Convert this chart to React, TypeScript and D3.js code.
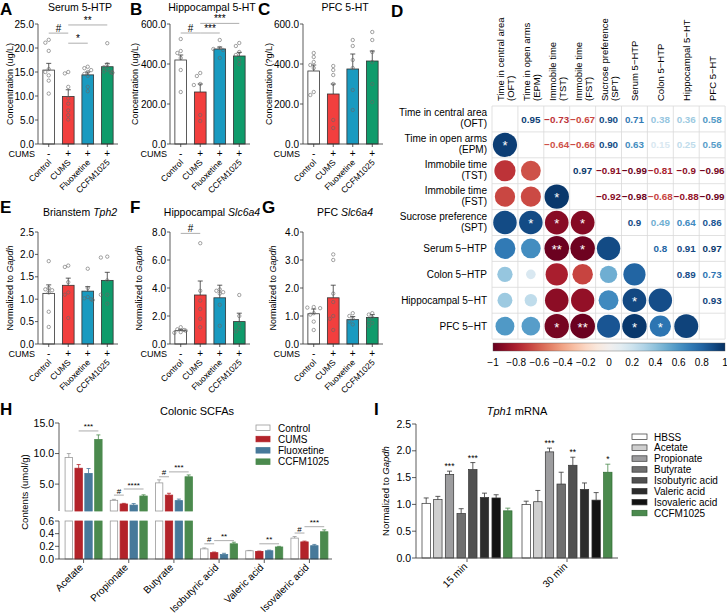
import React from "react";
import * as d3 from "d3";

const FONT = "'Liberation Sans', Arial, Helvetica, sans-serif";

// ---------- shared groups ----------
const groupNames = ["Control", "CUMS", "Fluoxetine", "CCFM1025"];
const cumsSigns = ["-", "+", "+", "+"];
const groupFills = ["#ffffff", "#f23f3e", "#199ac0", "#0f9b6b"];

// ---------- A: Serum 5-HTP ----------
const serumHtpMean = [15.4, 9.9, 14.4, 16.1];
const serumHtpSem = [1.4, 1.4, 0.6, 0.7];
const serumHtpPts = [
  [21.7, 21.1, 19.4, 15.6, 15.0, 14.3, 13.2, 10.5],
  [15.0, 14.7, 11.9, 9.5, 8.4, 7.0, 6.0, 5.1],
  [16.1, 15.8, 15.4, 15.0, 14.6, 14.2, 11.9, 11.0],
  [21.0, 16.6, 16.0, 15.5, 15.0, 14.9, 15.1, 14.8],
];
const serumHtpSig = [
  { a: 0, b: 1, v: 23.1, t: "#" },
  { a: 1, b: 3, v: 24.8, t: "**" },
  { a: 1, b: 2, v: 21.0, t: "*" },
];

// ---------- B: Hippocampal 5-HT ----------
const hippoHtMean = [420, 260, 475, 440];
const hippoHtSem = [25, 40, 10, 18];
const hippoHtPts = [
  [525, 465, 455, 430, 370, 260],
  [355, 340, 300, 295, 145, 115],
  [520, 480, 475, 470, 430],
  [505, 490, 460, 445, 420, 400],
];
const hippoHtSig = [
  { a: 0, b: 1, v: 555, t: "#" },
  { a: 1, b: 2, v: 555, t: "***" },
  { a: 1, b: 3, v: 603, t: "***" },
];

// ---------- C: PFC 5-HT ----------
const pfcHtMean = [365, 250, 375, 415];
const pfcHtSem = [30, 50, 75, 50];
const pfcHtPts = [
  [455, 435, 410, 395, 380, 260, 245],
  [390, 370, 345, 300, 120, 80],
  [520, 490, 420, 380, 270, 170],
  [560, 520, 460, 410, 300, 210],
];

// ---------- E: Brainstem Tph2 ----------
const tph2Mean = [1.13, 1.31, 1.18, 1.42];
const tph2Sem = [0.19, 0.16, 0.1, 0.18];
const tph2Pts = [
  [1.85, 1.25, 1.22, 1.2, 1.15, 0.72, 0.38],
  [1.75, 1.72, 1.38, 1.15, 1.1, 0.58],
  [1.68, 1.25, 1.05, 1.02, 1.0, 0.98],
  [1.95, 1.93, 1.42, 1.1, 1.1, 0.9],
];

// ---------- F: Hippocampal Slc6a4 ----------
const hipSlcMean = [0.95, 3.5, 3.3, 1.6];
const hipSlcSem = [0.1, 1.0, 0.9, 0.6];
const hipSlcPts = [
  [1.2, 1.05, 1.0, 0.95, 0.85, 0.8],
  [7.2, 3.8, 3.1, 2.5, 1.8, 1.2],
  [3.9, 3.8, 3.7, 3.6, 2.8, 1.3],
  [3.5, 2.0, 1.4, 1.1, 0.9],
];
const hipSlcSig = [{ a: 0, b: 1, v: 7.9, t: "#" }];

// ---------- G: PFC Slc6a4 ----------
const pfcSlcMean = [1.08, 1.65, 0.87, 0.95];
const pfcSlcSem = [0.17, 0.45, 0.11, 0.1];
const pfcSlcPts = [
  [1.3, 1.28, 1.32, 1.1, 1.05, 0.8, 0.5],
  [3.2, 3.0, 1.8, 1.5, 1.0, 0.9, 0.5],
  [1.1, 1.0, 0.9, 0.8, 0.7],
  [1.1, 1.05, 0.95, 0.85, 0.75, 0.65],
];

// ---------- D: correlation matrix ----------
const corrLabels = [
  ["Time in central area", "(OFT)"],
  ["Time in open arms", "(EPM)"],
  ["Immobile time", "(TST)"],
  ["Immobile time", "(FST)"],
  ["Sucrose preference", "(SPT)"],
  ["Serum 5\u2212HTP"],
  ["Colon 5\u2212HTP"],
  ["Hippocampal 5\u2212HT"],
  ["PFC 5\u2212HT"],
];
const corrUpper = [
  ["0.95", "-0.73", "-0.67", "0.90", "0.71", "0.38", "0.36", "0.58"],
  ["-0.64", "-0.66", "0.90", "0.63", "0.15", "0.25", "0.56"],
  ["0.97", "-0.91", "-0.99", "-0.81", "-0.9", "-0.96"],
  ["-0.92", "-0.98", "-0.68", "-0.88", "-0.99"],
  ["0.9", "0.49", "0.64", "0.86"],
  ["0.8", "0.91", "0.97"],
  ["0.89", "0.73"],
  ["0.93"],
];
const corrStars = [
  { r: 1, c: 0, t: "*" },
  { r: 3, c: 2, t: "*" },
  { r: 4, c: 1, t: "*" },
  { r: 4, c: 2, t: "*" },
  { r: 4, c: 3, t: "*" },
  { r: 5, c: 2, t: "**" },
  { r: 5, c: 3, t: "*" },
  { r: 7, c: 5, t: "*" },
  { r: 8, c: 2, t: "*" },
  { r: 8, c: 3, t: "**" },
  { r: 8, c: 5, t: "*" },
  { r: 8, c: 6, t: "*" },
];
const colorbarTicks = [-1, -0.8, -0.6, -0.4, -0.2, 0, 0.2, 0.4, 0.6, 0.8, 1];

// ---------- H: Colonic SCFAs ----------
const scfaNames = ["Acetate", "Propionate", "Butyrate", "Isobutyric acid", "Valeric acid", "Isovaleric acid"];
const scfaFills = ["#ffffff", "#b3232a", "#47799a", "#4b8a4e"];
const scfaStrokes = ["#9a9a9a", "#b3232a", "#47799a", "#4b8a4e"];
const scfaControl = [9.35, 2.35, 5.2, 0.16, 0.13, 0.33];
const scfaControlSem = [0.65, 0.15, 0.5, 0.015, 0.005, 0.025];
const scfaCums = [7.6, 1.75, 3.2, 0.1, 0.12, 0.27];
const scfaCumsSem = [0.6, 0.1, 0.3, 0.01, 0.005, 0.012];
const scfaFlu = [6.75, 1.57, 2.3, 0.07, 0.13, 0.21];
const scfaFluSem = [0.8, 0.25, 0.25, 0.02, 0.01, 0.02];
const scfaCcfm = [12.3, 3.05, 6.2, 0.24, 0.19, 0.43];
const scfaCcfmSem = [0.75, 0.2, 0.3, 0.025, 0.01, 0.03];
const scfaSig = [
  { g: 0, a: 1, b: 3, v: 13.7, t: "***" },
  { g: 1, a: 0, b: 1, v: 3.2, t: "#" },
  { g: 1, a: 1, b: 3, v: 4.2, t: "****" },
  { g: 2, a: 0, b: 1, v: 6.2, t: "#" },
  { g: 2, a: 1, b: 3, v: 7.0, t: "***" },
  { g: 3, a: 0, b: 1, v: 0.24, t: "#" },
  { g: 3, a: 1, b: 3, v: 0.29, t: "**" },
  { g: 4, a: 1, b: 3, v: 0.24, t: "**" },
  { g: 5, a: 0, b: 1, v: 0.41, t: "#" },
  { g: 5, a: 1, b: 3, v: 0.51, t: "***" },
];
const scfaBreak = 0.6;

// ---------- I: Tph1 mRNA ----------
const tphTimes = ["15 min", "30 min"];
const tphTreat = ["HBSS", "Acetate", "Propionate", "Butyrate", "Isobutyric acid", "Valeric acid", "Isovaleric acid", "CCFM1025"];
const tphFills = ["#ffffff", "#cfcfcf", "#9d9d9f", "#6f6f6f", "#505050", "#2c2c2c", "#121212", "#4b8a4e"];
const tph15 = [1.02, 1.09, 1.56, 0.83, 1.65, 1.13, 1.12, 0.88];
const tph15Sem = [0.1, 0.06, 0.06, 0.09, 0.13, 0.08, 0.06, 0.05];
const tph30 = [1.0, 1.05, 1.98, 1.38, 1.73, 1.28, 1.08, 1.6];
const tph30Sem = [0.06, 0.21, 0.07, 0.22, 0.15, 0.12, 0.14, 0.15];
const tph15Stars = ["", "", "***", "", "***", "", "", ""];
const tph30Stars = ["", "", "***", "", "**", "", "", "*"];

// ---------- helpers ----------
function swarm(vals: number[], yScale: (v: number) => number, r: number) {
  const order = vals.map((v) => ({ v, y: yScale(v) })).sort((a, b) => a.y - b.y);
  const cands = [0, -3.4, 3.4, -6.4, 6.4, -1.7, 1.7, -5, 5];
  const placed: { dx: number; y: number }[] = [];
  for (const o of order) {
    let best = cands[cands.length - 1];
    for (const c of cands) {
      if (placed.every((p) => Math.hypot(p.dx - c, p.y - o.y) >= 2 * r + 0.2)) {
        best = c;
        break;
      }
    }
    placed.push({ dx: best, y: o.y });
  }
  return placed;
}

const minus = (s: string) => s.replace("-", "\u2212");

type Sig = { a: number; b: number; v: number; t: string };
type PanelCfg = {
  letter: string; letterX: number; letterY: number;
  title: React.ReactNode; titleY: number;
  ylabel: React.ReactNode; ylabelX: number;
  x0: number; yTop: number; yZero: number; max: number; step: number;
  mean: number[]; sem: number[]; pts: number[][]; sigs: Sig[];
};

function BarPanel({ c }: { c: PanelCfg }) {
  const y = d3.scaleLinear().domain([0, c.max]).range([c.yZero, c.yTop]);
  const x = d3.scaleBand<string>().domain(groupNames).range([c.x0, c.x0 + 80]).paddingInner(0.4).paddingOuter(0.25);
  const bw = x.bandwidth();
  const ticks = d3.range(0, c.max + c.step / 2, c.step);
  const fmt = d3.format(".1f");
  const cx = (i: number) => (x(groupNames[i]) as number) + bw / 2;
  return (
    <g>
      <text x={c.letterX} y={c.letterY} fontSize={17} fontWeight="bold">{c.letter}</text>
      <text x={c.x0 + 42} y={c.titleY} fontSize={10.5} textAnchor="middle">{c.title}</text>
      <text transform={`translate(${c.ylabelX},${(c.yTop + c.yZero) / 2}) rotate(-90)`} textAnchor="middle" fontSize={9}>{c.ylabel}</text>
      <line x1={c.x0} x2={c.x0} y1={c.yTop} y2={c.yZero} stroke="#333" strokeWidth={0.8} />
      {ticks.map((t) => (
        <g key={t}>
          <line x1={c.x0 - 3} x2={c.x0} y1={y(t)} y2={y(t)} stroke="#333" strokeWidth={0.8} />
          <text x={c.x0 - 4} y={y(t)} dy="0.35em" textAnchor="end" fontSize={10}>{fmt(t)}</text>
        </g>
      ))}
      {groupNames.map((g, i) => {
        const m = c.mean[i];
        const top = y(m + c.sem[i]);
        const pts = swarm(c.pts[i], y, 1.7);
        return (
          <g key={g}>
            <rect x={x(g)} y={y(m)} width={bw} height={c.yZero - y(m)} fill={groupFills[i]} stroke="#333" strokeWidth={0.8} />
            <line x1={cx(i)} x2={cx(i)} y1={y(m)} y2={top} stroke="#333" strokeWidth={0.8} />
            <line x1={cx(i) - 2.5} x2={cx(i) + 2.5} y1={top} y2={top} stroke="#333" strokeWidth={0.8} />
            {pts.map((p, k) => (
              <circle key={k} cx={cx(i) + p.dx} cy={p.y} r={1.7} fill="none" stroke="#666" strokeWidth={0.6} />
            ))}
            <line x1={cx(i)} x2={cx(i)} y1={c.yZero} y2={c.yZero + 3} stroke="#333" strokeWidth={0.8} />
            <text x={cx(i)} y={c.yZero + 13} textAnchor="middle" fontSize={10}>{cumsSigns[i]}</text>
            <text transform={`translate(${cx(i) + 3},${c.yZero + 19}) rotate(-45)`} textAnchor="end" fontSize={8.5}>{g}</text>
          </g>
        );
      })}
      <line x1={c.x0} x2={c.x0 + 80} y1={c.yZero} y2={c.yZero} stroke="#333" strokeWidth={0.8} />
      <text x={c.x0 - 3} y={c.yZero + 13} textAnchor="end" fontSize={9}>CUMS</text>
      {c.sigs.map((s, k) => (
        <g key={k}>
          <line x1={cx(s.a)} x2={cx(s.b)} y1={y(s.v)} y2={y(s.v)} stroke="#999" strokeWidth={0.8} />
          <text x={(cx(s.a) + cx(s.b)) / 2} y={y(s.v) - 1.2} textAnchor="middle" fontSize={10}>{s.t}</text>
        </g>
      ))}
    </g>
  );
}

const concLabel = "Concentration (ug/L)";
const normLabel = (
  <>
    Normalized to <tspan fontStyle="italic">Gapdh</tspan>
  </>
);

const panels: PanelCfg[] = [
  { letter: "A", letterX: 0, letterY: 15, title: "Serum 5-HTP", titleY: 10.5, ylabel: concLabel, ylabelX: 13, x0: 38, yTop: 24, yZero: 144, max: 25, step: 5, mean: serumHtpMean, sem: serumHtpSem, pts: serumHtpPts, sigs: serumHtpSig },
  { letter: "B", letterX: 130, letterY: 15, title: "Hippocampal 5-HT", titleY: 10.5, ylabel: concLabel, ylabelX: 138, x0: 170, yTop: 24, yZero: 144, max: 600, step: 200, mean: hippoHtMean, sem: hippoHtSem, pts: hippoHtPts, sigs: hippoHtSig },
  { letter: "C", letterX: 258, letterY: 15, title: "PFC 5-HT", titleY: 10.5, ylabel: "Concentration (?g/L)", ylabelX: 272, x0: 303, yTop: 24, yZero: 144, max: 600, step: 200, mean: pfcHtMean, sem: pfcHtSem, pts: pfcHtPts, sigs: [] },
  { letter: "E", letterX: 0, letterY: 213, title: <>Brianstem <tspan fontStyle="italic">Tph2</tspan></>, titleY: 216, ylabel: normLabel, ylabelX: 13, x0: 38, yTop: 232, yZero: 344, max: 2.5, step: 0.5, mean: tph2Mean, sem: tph2Sem, pts: tph2Pts, sigs: [] },
  { letter: "F", letterX: 130, letterY: 213, title: <>Hippocampal <tspan fontStyle="italic">Slc6a4</tspan></>, titleY: 216, ylabel: normLabel, ylabelX: 142, x0: 170, yTop: 232, yZero: 344, max: 8, step: 2, mean: hipSlcMean, sem: hipSlcSem, pts: hipSlcPts, sigs: hipSlcSig },
  { letter: "G", letterX: 262, letterY: 213, title: <>PFC <tspan fontStyle="italic">Slc6a4</tspan></>, titleY: 216, ylabel: normLabel, ylabelX: 276, x0: 303, yTop: 232, yZero: 344, max: 4, step: 1, mean: pfcSlcMean, sem: pfcSlcSem, pts: pfcSlcPts, sigs: [] },
];

// ---------- D ----------
function CorrPanel() {
  const n = corrLabels.length;
  const x0 = 492, y0 = 106, cell = 25.9;
  const pos = d3.scaleLinear().domain([0, n]).range([0, n * cell]);
  const color = (r: number) => d3.interpolateRdBu((r + 1) / 2);
  const mat: number[][] = d3.range(n).map(() => d3.range(n).map(() => 1));
  corrUpper.forEach((row, i) => row.forEach((s, k) => {
    const j = i + 1 + k;
    mat[i][j] = +s;
    mat[j][i] = +s;
  }));
  const rad = d3.scaleSqrt().domain([0, 1]).range([0, 12.4]);
  const cbX = d3.scaleLinear().domain([-1, 1]).range([493, 725]);
  const stops = d3.range(0, 1.0001, 0.05);
  return (
    <g>
      <defs>
        <linearGradient id="rdbu" x1="0" x2="1" y1="0" y2="0">
          {stops.map((t) => (
            <stop key={t} offset={t} stopColor={d3.interpolateRdBu(t)} />
          ))}
        </linearGradient>
      </defs>
      <text x={391} y={17} fontSize={17} fontWeight="bold">D</text>
      {corrLabels.map((lab, j) => {
        const c = x0 + pos(j) + cell / 2;
        return lab.length === 2 ? (
          <g key={"c" + j} fontSize={9.5}>
            <text transform={`translate(${c - 0.5},101) rotate(-90)`}>{lab[0]}</text>
            <text transform={`translate(${c + 9.5},101) rotate(-90)`}>{lab[1]}</text>
          </g>
        ) : (
          <text key={"c" + j} transform={`translate(${c + 4},101) rotate(-90)`} fontSize={9.5}>{lab[0]}</text>
        );
      })}
      {corrLabels.map((lab, i) => {
        const cy = y0 + pos(i) + cell / 2;
        return lab.length === 2 ? (
          <g key={"r" + i} fontSize={10} textAnchor="end">
            <text x={487} y={cy - 3}>{lab[0]}</text>
            <text x={487} y={cy + 8}>{lab[1]}</text>
          </g>
        ) : (
          <text key={"r" + i} x={487} y={cy + 3.5} fontSize={10} textAnchor="end">{lab[0]}</text>
        );
      })}
      {d3.range(n + 1).map((k) => (
        <g key={"gl" + k}>
          <line x1={x0} x2={x0 + pos(n)} y1={y0 + pos(k)} y2={y0 + pos(k)} stroke="#d9d9d9" strokeWidth={0.8} />
          <line x1={x0 + pos(k)} x2={x0 + pos(k)} y1={y0} y2={y0 + pos(n)} stroke="#d9d9d9" strokeWidth={0.8} />
        </g>
      ))}
      {d3.range(n).map((i) =>
        d3.range(n).map((j) => {
          if (i === j) return null;
          const cx = x0 + pos(j) + cell / 2;
          const cy = y0 + pos(i) + cell / 2;
          const r = mat[i][j];
          if (j > i) {
            const s = corrUpper[i][j - i - 1];
            return (
              <text key={i + "-" + j} x={cx} y={cy + 3.6} textAnchor="middle" fontSize={9.8} fontWeight="bold" fill={color(r)}>{minus(s)}</text>
            );
          }
          return <circle key={i + "-" + j} cx={cx} cy={cy} r={rad(Math.abs(r))} fill={color(r)} />;
        })
      )}
      {corrStars.map((s, k) => (
        <text key={"s" + k} x={x0 + pos(s.c) + cell / 2} y={y0 + pos(s.r) + cell / 2 + 5.5} textAnchor="middle" fontSize={13} fill="#fff">{s.t}</text>
      ))}
      <rect x={493} y={343} width={232} height={8} fill="url(#rdbu)" stroke="#555" strokeWidth={0.4} />
      {colorbarTicks.map((t) => (
        <text key={t} x={cbX(t)} y={366} textAnchor="middle" fontSize={10}>{minus(String(Math.round(t * 10) / 10))}</text>
      ))}
    </g>
  );
}

// ---------- H ----------
function ScfaPanel() {
  const x0 = 59, xEnd = 332, yBase = 559;
  const yUp = d3.scaleLinear().domain([scfaBreak, 15]).range([511, 423]);
  const yLow = d3.scaleLinear().domain([0, scfaBreak]).range([yBase, 521]);
  const yv = (v: number) => (v > scfaBreak ? yUp(v) : yLow(v));
  const gx = d3.scaleBand<string>().domain(scfaNames).range([61, xEnd]);
  const ix = d3.scaleBand<string>().domain(groupNames).range([-18.5, 18.5]).paddingInner(0.25);
  const bw = ix.bandwidth();
  const series = [scfaControl, scfaCums, scfaFlu, scfaCcfm];
  const sems = [scfaControlSem, scfaCumsSem, scfaFluSem, scfaCcfmSem];
  const gc = (g: number) => (gx(scfaNames[g]) as number) + gx.bandwidth() / 2;
  const bc = (g: number, s: number) => gc(g) + (ix(groupNames[s]) as number) + bw / 2;
  const fmt = d3.format(".1f");
  return (
    <g>
      <text x={0} y={415} fontSize={17} fontWeight="bold">H</text>
      <text x={197} y={415} fontSize={11} textAnchor="middle">Colonic SCFAs</text>
      <text transform={`translate(28,492) rotate(-90)`} textAnchor="middle" fontSize={9.5}>Contents (umol/g)</text>
      <line x1={x0} x2={x0} y1={423} y2={511} stroke="#333" strokeWidth={0.8} />
      <line x1={x0} x2={x0} y1={521} y2={yBase} stroke="#333" strokeWidth={0.8} />
      {[5, 10, 15].map((t) => (
        <g key={"u" + t}>
          <line x1={x0 - 4} x2={x0} y1={yUp(t)} y2={yUp(t)} stroke="#333" strokeWidth={0.8} />
          <text x={x0 - 5} y={yUp(t)} dy="0.35em" textAnchor="end" fontSize={10.5}>{fmt(t)}</text>
        </g>
      ))}
      {[0, 0.2, 0.4, 0.6].map((t) => (
        <g key={"l" + t}>
          <line x1={x0 - 4} x2={x0} y1={yLow(t)} y2={yLow(t)} stroke="#333" strokeWidth={0.8} />
          <text x={x0 - 5} y={yLow(t)} dy="0.35em" textAnchor="end" fontSize={10.5}>{fmt(t)}</text>
        </g>
      ))}
      {scfaNames.map((name, g) => (
        <g key={name}>
          {series.map((ser, s) => {
            const v = ser[g];
            const e = v + sems[s][g];
            const x = bc(g, s) - bw / 2;
            const st = scfaStrokes[s];
            return (
              <g key={s}>
                {v > scfaBreak ? (
                  <>
                    <rect x={x} y={521} width={bw} height={yBase - 521} fill={scfaFills[s]} stroke={st} strokeWidth={0.8} />
                    <rect x={x} y={yUp(v)} width={bw} height={511 - yUp(v)} fill={scfaFills[s]} stroke={st} strokeWidth={0.8} />
                  </>
                ) : (
                  <rect x={x} y={yLow(v)} width={bw} height={yBase - yLow(v)} fill={scfaFills[s]} stroke={st} strokeWidth={0.8} />
                )}
                <line x1={bc(g, s)} x2={bc(g, s)} y1={yv(v)} y2={yv(e)} stroke={st} strokeWidth={0.8} />
                <line x1={bc(g, s) - 2} x2={bc(g, s) + 2} y1={yv(e)} y2={yv(e)} stroke={st} strokeWidth={0.8} />
              </g>
            );
          })}
          <line x1={gc(g)} x2={gc(g)} y1={yBase} y2={yBase + 4} stroke="#333" strokeWidth={0.8} />
          <text transform={`translate(${gc(g)},${yBase + 9}) rotate(-45)`} textAnchor="end" fontSize={10}>{name}</text>
        </g>
      ))}
      <line x1={x0} x2={xEnd} y1={yBase} y2={yBase} stroke="#333" strokeWidth={0.8} />
      {scfaSig.map((s, k) => (
        <g key={"sg" + k}>
          <line x1={bc(s.g, s.a)} x2={bc(s.g, s.b)} y1={yv(s.v)} y2={yv(s.v)} stroke="#888" strokeWidth={0.7} />
          <text x={(bc(s.g, s.a) + bc(s.g, s.b)) / 2} y={yv(s.v) - 1.5} textAnchor="middle" fontSize={8}>{s.t}</text>
        </g>
      ))}
      {groupNames.map((g, s) => (
        <g key={"lg" + g}>
          <rect x={256} y={425 + s * 11.3} width={14} height={5.5} fill={scfaFills[s]} stroke={scfaStrokes[s]} strokeWidth={0.8} />
          <text x={278} y={431.5 + s * 11.3} fontSize={10}>{g}</text>
        </g>
      ))}
    </g>
  );
}

// ---------- I ----------
function TphPanel() {
  const x0 = 416, xEnd = 618, yBase = 558;
  const y = d3.scaleLinear().domain([0, 2.5]).range([yBase, 424]);
  const gx = d3.scaleBand<string>().domain(tphTimes).range([417, 617]);
  const ix = d3.scaleBand<string>().domain(tphTreat).range([-45, 45]).paddingInner(0.28);
  const bw = ix.bandwidth();
  const vals = [tph15, tph30];
  const sems = [tph15Sem, tph30Sem];
  const stars = [tph15Stars, tph30Stars];
  const gc = (g: number) => (gx(tphTimes[g]) as number) + gx.bandwidth() / 2;
  const fmt = d3.format(".1f");
  return (
    <g>
      <text x={374} y={415} fontSize={17} fontWeight="bold">I</text>
      <text x={517} y={415} fontSize={11} textAnchor="middle"><tspan fontStyle="italic">Tph1</tspan> mRNA</text>
      <text transform={`translate(389,491) rotate(-90)`} textAnchor="middle" fontSize={9.5}>
        Normalized to <tspan fontStyle="italic">Gapdh</tspan>
      </text>
      <line x1={x0} x2={x0} y1={424} y2={yBase} stroke="#333" strokeWidth={0.8} />
      {d3.range(0, 2.51, 0.5).map((t) => (
        <g key={t}>
          <line x1={x0 - 4} x2={x0} y1={y(t)} y2={y(t)} stroke="#333" strokeWidth={0.8} />
          <text x={x0 - 5} y={y(t)} dy="0.35em" textAnchor="end" fontSize={10.5}>{fmt(t)}</text>
        </g>
      ))}
      {tphTimes.map((tm, g) => (
        <g key={tm}>
          {tphTreat.map((tr, s) => {
            const v = vals[g][s];
            const e = v + sems[g][s];
            const x = gc(g) + (ix(tr) as number);
            const cx = x + bw / 2;
            const st = s === 7 ? "#2f6b33" : "#333";
            return (
              <g key={tr}>
                <rect x={x} y={y(v)} width={bw} height={yBase - y(v)} fill={tphFills[s]} stroke={st} strokeWidth={0.7} />
                <line x1={cx} x2={cx} y1={y(v)} y2={y(e)} stroke={s === 7 ? "#4b8a4e" : "#333"} strokeWidth={0.8} />
                <line x1={cx - 2.5} x2={cx + 2.5} y1={y(e)} y2={y(e)} stroke={s === 7 ? "#4b8a4e" : "#333"} strokeWidth={0.8} />
                {stars[g][s] && (
                  <text x={cx} y={y(e) - 2} textAnchor="middle" fontSize={8.5}>{stars[g][s]}</text>
                )}
              </g>
            );
          })}
          <line x1={gc(g)} x2={gc(g)} y1={yBase} y2={yBase + 4} stroke="#333" strokeWidth={0.8} />
          <text transform={`translate(${gc(g) + 1},${yBase + 9}) rotate(-45)`} textAnchor="end" fontSize={10}>{tm}</text>
        </g>
      ))}
      <line x1={x0} x2={xEnd} y1={yBase} y2={yBase} stroke="#555" strokeWidth={1} />
      {tphTreat.map((tr, s) => (
        <g key={"lg" + tr}>
          <rect x={632} y={434 + s * 10.9} width={15} height={5.5} fill={tphFills[s]} stroke={s === 7 ? "#2f6b33" : "#333"} strokeWidth={0.7} />
          <text x={654} y={440.5 + s * 10.9} fontSize={10}>{tr}</text>
        </g>
      ))}
    </g>
  );
}

export default function App() {
  return (
    <svg
      width={727}
      height={614}
      viewBox="0 0 727 614"
      style={{ position: "absolute", left: 0, top: 0, background: "#fff" }}
      fontFamily={FONT}
    >
      <rect width={727} height={614} fill="#fff" />
      {panels.map((c) => (
        <BarPanel key={c.letter} c={c} />
      ))}
      <CorrPanel />
      <ScfaPanel />
      <TphPanel />
    </svg>
  );
}
